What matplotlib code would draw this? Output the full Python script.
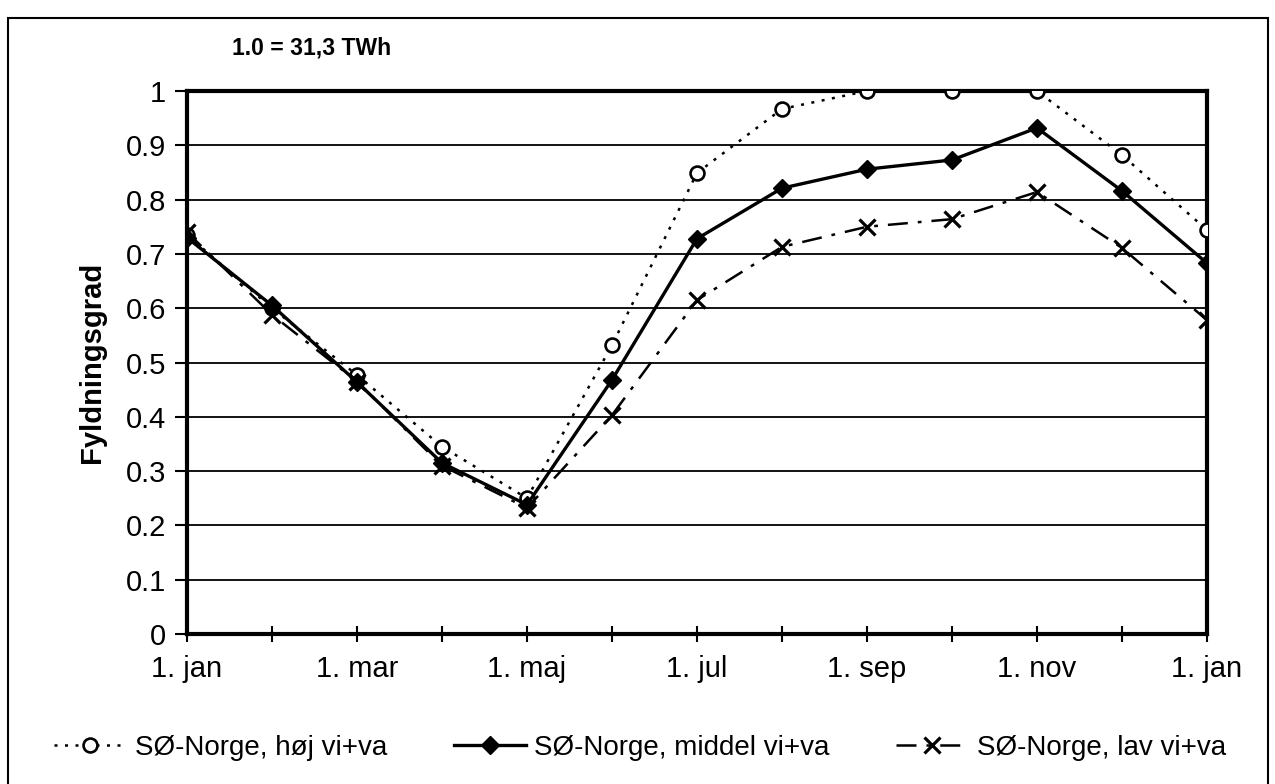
import matplotlib
matplotlib.use("Agg")
from matplotlib import pyplot as plt
from matplotlib.patches import Rectangle

plt.rcParams['font.family'] = ['Liberation Sans', 'DejaVu Sans']

months = ["1. jan", "1. feb", "1. mar", "1. apr", "1. maj", "1. jun", "1. jul",
          "1. aug", "1. sep", "1. okt", "1. nov", "1. dec", "1. jan"]
hoej = [0.735, 0.60, 0.477, 0.345, 0.25, 0.532, 0.849, 0.967, 1.0, 1.0, 1.0, 0.882, 0.744]
middel = [0.73, 0.605, 0.464, 0.315, 0.238, 0.468, 0.728, 0.821, 0.856, 0.873, 0.932, 0.816, 0.683]
lav = [0.74, 0.588, 0.465, 0.31, 0.232, 0.403, 0.615, 0.713, 0.75, 0.764, 0.814, 0.711, 0.578]
labels = ["SØ-Norge, høj vi+va", "SØ-Norge, middel vi+va", "SØ-Norge, lav vi+va"]
yticks = [0, 0.1, 0.2, 0.3, 0.4, 0.5, 0.6, 0.7, 0.8, 0.9, 1.0]
ylabels = ["0", "0.1", "0.2", "0.3", "0.4", "0.5", "0.6", "0.7", "0.8", "0.9", "1"]

fig = plt.figure(figsize=(12.75, 7.84), dpi=100)
ax = fig.add_axes([187 / 1275, 1 - 634 / 784, 1020 / 1275, 543 / 784])

x = list(range(len(months)))
ax.plot(x, hoej, color="black", lw=1.8, ls=(0, (1.2, 3.0)), marker="o", ms=10,
        mfc="white", mec="black", mew=1.9, label=labels[0], zorder=3)
ax.plot(x, middel, color="black", lw=2.4, ls="-", marker="D", ms=9,
        mfc="black", mec="black", label=labels[1], zorder=4)
ax.plot(x, lav, color="black", lw=1.8, ls=(0, (8, 4, 1.5, 4)), marker="x", ms=12,
        mew=2.3, label=labels[2], zorder=3)

ax.set_xlim(0, 12)
ax.set_ylim(0, 1)
ax.set_yticks(yticks)
ax.set_yticklabels(ylabels)
ax.set_xticks(x)
ax.set_xticklabels([m if i % 2 == 0 else "" for i, m in enumerate(months)])
ax.yaxis.grid(True, color="black", lw=1.3)
ax.set_axisbelow(True)
for s in ax.spines.values():
    s.set_linewidth(3)
    s.set_color("black")
ax.tick_params(axis="y", direction="out", length=9, width=1.5, labelsize=21, pad=6)
ax.tick_params(axis="x", direction="inout", length=12, width=1.5, labelsize=21, pad=9)
ax.set_ylabel("Fyldningsgrad", fontsize=21, fontweight="bold", labelpad=14)

fig.text(232 / 1275, 1 - 48 / 784, "1.0 = 31,3 TWh", fontsize=16.5, fontweight="bold",
         va="center", ha="left")

fig.legend(loc="center", bbox_to_anchor=(0.502, 1 - 748 / 784), ncol=3,
           frameon=False, handlelength=2.6, columnspacing=2.4, handletextpad=0.3,
           prop={"size": 20})

# outer frame
fig.patches.append(Rectangle((8 / 1275, -0.01), 1260 / 1275, 1 - 18 / 784 + 0.01,
                             transform=fig.transFigure, fill=False, ec="black", lw=1.5))

fig.savefig("out.png", dpi=100)
